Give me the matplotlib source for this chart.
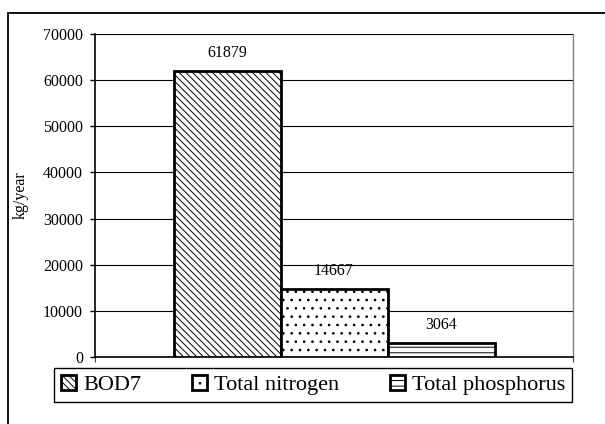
import numpy as np
import matplotlib
matplotlib.use('Agg')
import matplotlib.pyplot as plt
from matplotlib.patches import Rectangle

# values
series = ['BOD7', 'Total nitrogen', 'Total phosphorus']
values = [61879, 14667, 3064]
hatches = ['\\\\\\\\\\', '..', '---']
yticks = [0, 10000, 20000, 30000, 40000, 50000, 60000, 70000]

plt.rcParams['font.family'] = ['Liberation Serif', 'DejaVu Serif']
plt.rcParams['hatch.linewidth'] = 0.7

fig = plt.figure(figsize=(6.05, 4.24), dpi=100)
ax = fig.add_axes([95/605, 1-357/424, 478/605, 323/424])

# outer frame round the whole chart
fig.patches.append(Rectangle((8/605, -0.1), 1.2, 1-12.7/424+0.1,
                             transform=fig.transFigure, fill=False,
                             edgecolor='black', linewidth=1.3))

w = 107/478
bars = []
for i, (name, v, h) in enumerate(zip(series, values, hatches)):
    b = ax.bar((i-1)*w, v, width=w, color='white', edgecolor='black',
               linewidth=2, hatch=h, label=name, zorder=3)
    bars.append(b)
    ax.annotate(str(v), xy=((i-1)*w, v), xytext=(0, 13),
                textcoords='offset points', ha='center', va='center',
                fontsize=11.5)

ax.set_xlim(-0.5, 0.5)
ax.set_ylim(0, 70000)
ax.set_yticks(yticks)
ax.set_yticklabels([str(t) for t in yticks], fontsize=11.5)
ax.tick_params(axis='y', direction='out', length=3.6, width=1, pad=5)
ax.set_xticks([-0.5, 0.5])
ax.set_xticklabels([])
ax.tick_params(axis='x', direction='out', length=3.6, width=0.8, colors='#404040')
ax.grid(axis='y', color='black', linewidth=0.8, zorder=0)
ax.set_axisbelow(True)

ax.spines['left'].set_linewidth(1.2)
ax.spines['bottom'].set_linewidth(1.2)
ax.spines['top'].set_visible(False)
ax.spines['right'].set_color('#808080')
ax.spines['right'].set_linewidth(1)

ax.set_ylabel('kg/year', fontsize=11.5)
ax.yaxis.set_label_coords(-66/478, 0.5)

leg = fig.legend(handles=bars, labels=series, ncol=3, mode='expand',
                 loc='center', bbox_to_anchor=(54/605, 1-405/424, 518/605, 40/424),
                 bbox_transform=fig.transFigure, fontsize=16,
                 handlelength=0.7, handleheight=0.7, handletextpad=0.3,
                 borderpad=0.3, fancybox=False, framealpha=1, edgecolor='black',
                 borderaxespad=0)
leg.get_frame().set_linewidth(1)

fig.savefig('out.png', dpi=100)
